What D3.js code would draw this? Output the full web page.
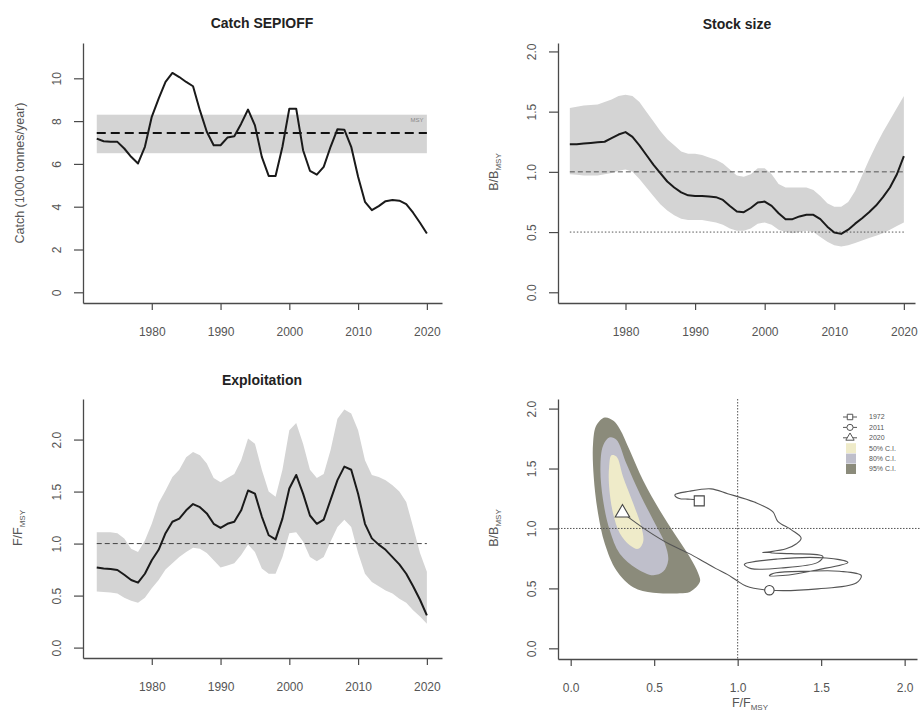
<!DOCTYPE html>
<html>
<head>
<meta charset="utf-8">
<script src="https://cdn.jsdelivr.net/npm/d3@7"></script>
<style>
body { margin: 0; background: #fff; }
svg text { font-family: "Liberation Sans", Arial, sans-serif; }
</style>
</head>
<body>
<svg id="chart" width="920" height="715"></svg>
<script>
// ---- data ----
const years = d3.range(1972, 2021)

const catchVals = [7.18, 7.06, 7.03, 7.03, 6.72, 6.33, 6.02, 6.8, 8.2, 9.05,
    9.83, 10.25, 10.06, 9.83, 9.63, 8.5, 7.5, 6.87, 6.87, 7.23,
    7.29, 7.88, 8.54, 7.8, 6.33, 5.44, 5.43, 6.8, 8.58, 8.58,
    6.64, 5.68, 5.5, 5.86, 6.8, 7.62, 7.6, 6.8, 5.4, 4.23,
    3.84, 4.03, 4.26, 4.31, 4.28, 4.12, 3.72, 3.25, 2.75]
const msyCatch = 7.45
const msyCatchLow = 6.5
const msyCatchHigh = 8.3

const bRel = [1.23, 1.23, 1.235, 1.24, 1.245, 1.25, 1.28, 1.31, 1.33, 1.29,
    1.22, 1.14, 1.06, 0.99, 0.92, 0.87, 0.83, 0.805, 0.80, 0.80,
    0.795, 0.79, 0.767, 0.717, 0.67, 0.665, 0.70, 0.745, 0.753, 0.717,
    0.656, 0.607, 0.607, 0.63, 0.643, 0.643, 0.607, 0.545, 0.496, 0.485,
    0.52, 0.57, 0.615, 0.665, 0.72, 0.79, 0.87, 0.98, 1.13]
const bHigh = [1.53, 1.54, 1.55, 1.555, 1.56, 1.58, 1.60, 1.63, 1.64, 1.63,
    1.58, 1.50, 1.42, 1.34, 1.27, 1.22, 1.17, 1.15, 1.15, 1.14,
    1.12, 1.10, 1.07, 1.02, 0.97, 0.96, 0.98, 1.03, 1.03, 0.98,
    0.90, 0.87, 0.87, 0.87, 0.87, 0.85, 0.80, 0.74, 0.71, 0.71,
    0.75, 0.84, 0.97, 1.10, 1.22, 1.33, 1.43, 1.53, 1.63]
const bLow = [0.98, 0.975, 0.97, 0.97, 0.97, 0.98, 0.99, 1.01, 1.02, 1.00,
    0.94, 0.87, 0.80, 0.73, 0.68, 0.64, 0.61, 0.60, 0.60, 0.60,
    0.59, 0.58, 0.56, 0.53, 0.51, 0.51, 0.53, 0.57, 0.58, 0.56,
    0.52, 0.50, 0.49, 0.50, 0.51, 0.50, 0.46, 0.42, 0.39, 0.38,
    0.39, 0.41, 0.43, 0.45, 0.47, 0.49, 0.52, 0.55, 0.58]

const fRel = [0.77, 0.76, 0.755, 0.746, 0.70, 0.65, 0.624, 0.71, 0.84, 0.94,
    1.10, 1.21, 1.24, 1.32, 1.38, 1.35, 1.29, 1.19, 1.15, 1.19,
    1.21, 1.32, 1.51, 1.48, 1.26, 1.08, 1.04, 1.24, 1.53, 1.66,
    1.48, 1.27, 1.19, 1.23, 1.42, 1.61, 1.74, 1.71, 1.48, 1.19,
    1.05, 0.99, 0.94, 0.87, 0.80, 0.71, 0.59, 0.46, 0.31]
const fHigh = [1.11, 1.11, 1.11, 1.10, 1.05, 0.95, 0.92, 1.03, 1.19, 1.39,
    1.51, 1.64, 1.71, 1.83, 1.88, 1.85, 1.77, 1.63, 1.59, 1.63,
    1.67, 1.80, 2.01, 1.96, 1.71, 1.50, 1.45, 1.71, 2.09, 2.16,
    1.96, 1.71, 1.63, 1.67, 1.90, 2.20, 2.29, 2.25, 2.09, 1.80,
    1.66, 1.64, 1.61, 1.56, 1.50, 1.40, 1.16, 0.91, 0.73]
const fLow = [0.54, 0.535, 0.53, 0.52, 0.48, 0.45, 0.43, 0.48, 0.57, 0.65,
    0.75, 0.81, 0.87, 0.92, 0.96, 0.95, 0.91, 0.84, 0.77, 0.79,
    0.81, 0.89, 0.99, 0.92, 0.76, 0.71, 0.71, 0.87, 1.10, 1.11,
    1.02, 0.87, 0.83, 0.87, 1.02, 1.16, 1.23, 1.16, 0.91, 0.71,
    0.63, 0.59, 0.55, 0.52, 0.47, 0.43, 0.36, 0.30, 0.23]

// confidence regions of the last year, [F/Fmsy, B/Bmsy]
const ci95 = [[0.204, 1.925], [0.254, 1.90], [0.294, 1.83], [0.354, 1.65], [0.434, 1.40],
    [0.534, 1.15], [0.634, 0.93], [0.714, 0.76], [0.764, 0.625], [0.774, 0.555],
    [0.714, 0.47], [0.654, 0.46], [0.494, 0.463], [0.374, 0.51], [0.274, 0.65],
    [0.204, 0.875], [0.164, 1.125], [0.138, 1.43], [0.134, 1.71], [0.154, 1.86]]
const ci80 = [[0.234, 1.76], [0.274, 1.74], [0.334, 1.54], [0.414, 1.29], [0.494, 1.07],
    [0.564, 0.875], [0.584, 0.735], [0.554, 0.64], [0.494, 0.61], [0.394, 0.667],
    [0.294, 0.79], [0.234, 0.985], [0.194, 1.235], [0.178, 1.51], [0.194, 1.69]]
const ci50 = [[0.244, 1.61], [0.274, 1.60], [0.314, 1.43], [0.374, 1.21], [0.424, 1.01],
    [0.434, 0.89], [0.404, 0.83], [0.354, 0.86], [0.294, 0.96], [0.254, 1.125],
    [0.23, 1.35], [0.23, 1.51]]

const yearTicks = [1980, 1990, 2000, 2010, 2020]
const catchTicks = [0, 2, 4, 6, 8, 10]
const relTicks = [0, 0.5, 1, 1.5, 2]
const markYears = [1972, 2011, 2020]
const ciLabels = ["50% C.I.", "80% C.I.", "95% C.I."]

const ciColors = ["#efebc9", "#bfbfcb", "#8b8b7b"]
const bandGrey = "#d4d4d4"
const axisCol = "#4a4a4a"
const textCol = "#555"

const svg = d3.select("#chart")
const f1 = d3.format(".1f")

// ---- scales per panel ----
const x1 = d3.scaleLinear().domain([1970, 2022.2]).range([83, 442])
const y1 = d3.scaleLinear().domain([-0.5, 11.65]).range([303, 43])
const x2 = d3.scaleLinear().domain([1970.3, 2021.6]).range([558, 915])
const y2 = d3.scaleLinear().domain([-0.089, 2.07]).range([303, 43])
const x3 = d3.scaleLinear().domain([1970, 2022.2]).range([83, 442])
const y3 = d3.scaleLinear().domain([-0.10, 2.39]).range([658, 399])
const x4 = d3.scaleLinear().domain([-0.076, 2.074]).range([558, 917])
const y4 = d3.scaleLinear().domain([-0.089, 2.08]).range([659, 399])

const drawAxes = (x, y, xTicks, yTicks, xFmt, yFmt) => {
    const gx = svg.append("g")
        .attr("transform", `translate(0,${y.range()[0]})`)
        .call(d3.axisBottom(x).tickValues(xTicks).tickFormat(xFmt).tickSize(7).tickSizeOuter(0))
    const gy = svg.append("g")
        .attr("transform", `translate(${x.range()[0]},0)`)
        .call(d3.axisLeft(y).tickValues(yTicks).tickFormat(yFmt).tickSize(9).tickSizeOuter(0))
    ;[gx, gy].forEach(g => {
        g.select(".domain").attr("stroke", axisCol).attr("stroke-width", 1.3)
        g.selectAll(".tick line").attr("stroke", axisCol).attr("stroke-width", 1.2)
        g.selectAll("text").attr("fill", textCol).style("font-size", "12px")
    })
    gx.selectAll("text").attr("y", 29).attr("dy", "0.35em")
    gy.selectAll("text")
        .attr("x", null).attr("dy", null)
        .attr("text-anchor", "middle")
        .attr("transform", "translate(-22,0) rotate(-90)")
}

const title = (txt, x, y) => svg.append("text")
    .attr("x", x).attr("y", y).attr("text-anchor", "middle")
    .attr("fill", "#222").style("font-size", "14px").style("font-weight", "bold")
    .text(txt)

const vLabel = (x, y, main, sub) => {
    const t = svg.append("text")
        .attr("transform", `translate(${x},${y}) rotate(-90)`)
        .attr("text-anchor", "middle").attr("fill", textCol)
        .style("font-size", "12.5px")
        .text(main)
    if (sub) t.append("tspan").attr("dy", 3).style("font-size", "8px").text(sub)
    return t
}

const band = (x, y, lo, hi) => d3.area()
    .x((d, i) => x(years[i])).y0((d, i) => y(lo[i])).y1((d, i) => y(hi[i]))
const series = (x, y) => d3.line().x((d, i) => x(years[i])).y(d => y(d))

// ---- panel 1: catch ----
svg.append("rect")
    .attr("x", x1(years[0])).attr("width", x1(years[years.length - 1]) - x1(years[0]))
    .attr("y", y1(msyCatchHigh)).attr("height", y1(msyCatchLow) - y1(msyCatchHigh))
    .attr("fill", bandGrey)
svg.append("line")
    .attr("x1", x1(years[0])).attr("x2", x1(years[years.length - 1]))
    .attr("y1", y1(msyCatch)).attr("y2", y1(msyCatch))
    .attr("stroke", "#111").attr("stroke-width", 2).attr("stroke-dasharray", "9,5")
svg.append("text")
    .attr("x", x1(2019.5)).attr("y", y1(msyCatchHigh) + 7).attr("text-anchor", "end")
    .attr("fill", "#888").style("font-size", "6px").text("MSY")
svg.append("path").datum(catchVals).attr("d", series(x1, y1))
    .attr("fill", "none").attr("stroke", "#1a1a1a").attr("stroke-width", 2).attr("stroke-linejoin", "round")
drawAxes(x1, y1, yearTicks, catchTicks, d => d, d => d)
title("Catch SEPIOFF", 262, 28)
vLabel(24, 173, "Catch (1000 tonnes/year)")

// ---- panel 2: stock size ----
svg.append("path").datum(bRel).attr("d", band(x2, y2, bLow, bHigh)).attr("fill", bandGrey)
;[[1, "5,3"], [0.5, "1.5,2"]].forEach(([v, dash]) => svg.append("line")
    .attr("x1", x2(years[0])).attr("x2", x2(years[years.length - 1]))
    .attr("y1", y2(v)).attr("y2", y2(v))
    .attr("stroke", "#555").attr("stroke-width", 1).attr("stroke-dasharray", dash))
svg.append("path").datum(bRel).attr("d", series(x2, y2))
    .attr("fill", "none").attr("stroke", "#1a1a1a").attr("stroke-width", 2).attr("stroke-linejoin", "round")
drawAxes(x2, y2, yearTicks, relTicks, d => d, f1)
title("Stock size", 737, 29)
vLabel(498, 172, "B/B", "MSY")

// ---- panel 3: exploitation ----
svg.append("path").datum(fRel).attr("d", band(x3, y3, fLow, fHigh)).attr("fill", bandGrey)
svg.append("line")
    .attr("x1", x3(years[0])).attr("x2", x3(years[years.length - 1]))
    .attr("y1", y3(1)).attr("y2", y3(1))
    .attr("stroke", "#444").attr("stroke-width", 1).attr("stroke-dasharray", "5,3")
svg.append("path").datum(fRel).attr("d", series(x3, y3))
    .attr("fill", "none").attr("stroke", "#1a1a1a").attr("stroke-width", 2).attr("stroke-linejoin", "round")
drawAxes(x3, y3, yearTicks, relTicks, d => d, f1)
title("Exploitation", 262, 385)
vLabel(22, 528, "F/F", "MSY")

// ---- panel 4: kobe ----
const blob = d3.line().x(d => x4(d[0])).y(d => y4(d[1])).curve(d3.curveCatmullRomClosed)
;[ci95, ci80, ci50].forEach((ring, i) => svg.append("path")
    .attr("d", blob(ring)).attr("fill", ciColors[2 - i]))

svg.append("line")
    .attr("x1", x4(1)).attr("x2", x4(1)).attr("y1", y4.range()[1]).attr("y2", y4.range()[0])
    .attr("stroke", "#555").attr("stroke-width", 1).attr("stroke-dasharray", "1.5,1.5")
svg.append("line")
    .attr("x1", x4.range()[0]).attr("x2", 920).attr("y1", y4(1)).attr("y2", y4(1))
    .attr("stroke", "#555").attr("stroke-width", 1).attr("stroke-dasharray", "1.5,1.5")

const traj = fRel.map((f, i) => [f, bRel[i]])
svg.append("path")
    .attr("d", d3.line().x(d => x4(d[0])).y(d => y4(d[1])).curve(d3.curveCatmullRom)(traj))
    .attr("fill", "none").attr("stroke", "#555").attr("stroke-width", 1.1)

const symbols = [d3.symbolSquare, d3.symbolCircle, d3.symbolTriangle]
const symSizes = [100, 70, 90]
markYears.forEach((yr, k) => {
    const i = years.indexOf(yr)
    svg.append("path")
        .attr("d", d3.symbol(symbols[k], symSizes[k])())
        .attr("transform", `translate(${x4(fRel[i])},${y4(bRel[i])})`)
        .attr("fill", "#fff").attr("stroke", "#444").attr("stroke-width", 1.1)
})

drawAxes(x4, y4, relTicks, relTicks, f1, f1)
vLabel(498, 528, "B/B", "MSY")
const xl = svg.append("text").attr("x", 750).attr("y", 707).attr("text-anchor", "middle")
    .attr("fill", textCol).style("font-size", "12.5px").text("F/F")
xl.append("tspan").attr("dy", 2.5).style("font-size", "8px").text("MSY")

// legend
const lg = svg.append("g").attr("transform", "translate(843,417)")
const rowH = 10.4
markYears.forEach((yr, k) => {
    const row = lg.append("g").attr("transform", `translate(0,${k * rowH})`)
    row.append("line").attr("x1", 0).attr("x2", 14).attr("stroke", "#555").attr("stroke-width", 1)
    row.append("path").attr("d", d3.symbol(symbols[k], 30)())
        .attr("transform", "translate(7,0)").attr("fill", "#fff").attr("stroke", "#555")
    row.append("text").attr("x", 26).attr("dy", "0.35em").attr("fill", textCol)
        .style("font-size", "7px").text(yr)
})
ciLabels.forEach((lab, k) => {
    const row = lg.append("g").attr("transform", `translate(0,${(k + 3) * rowH})`)
    row.append("rect").attr("x", 3).attr("y", -5).attr("width", 10).attr("height", 10)
        .attr("fill", ciColors[k])
    row.append("text").attr("x", 26).attr("dy", "0.35em").attr("fill", textCol)
        .style("font-size", "7px").text(lab)
})
</script>
</body>
</html>
